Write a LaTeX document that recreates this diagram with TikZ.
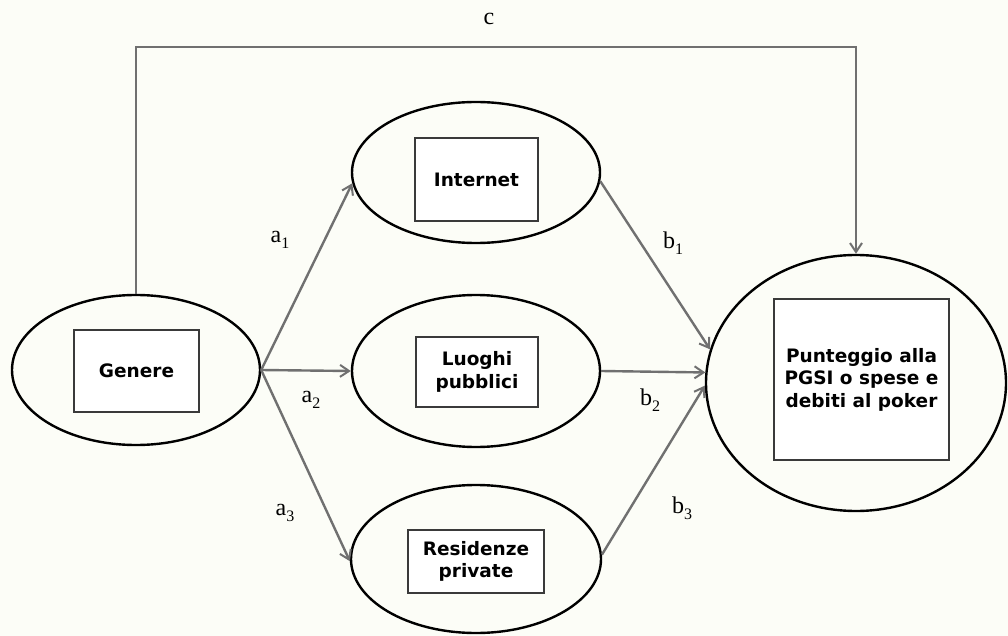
\documentclass[tikz,border=0pt]{standalone}
\usepackage{fontspec}
\setmainfont{Liberation Serif}
\newfontfamily\boxfont{DejaVu Sans}
\usetikzlibrary{shapes.geometric,arrows.meta}
\definecolor{bgcol}{HTML}{FCFDF7}
\definecolor{arrcol}{HTML}{707070}
\definecolor{boxcol}{HTML}{3A3A3A}
\newcommand{\lab}[2]{{\fontsize{24}{28}\selectfont #1}\raisebox{-5.5pt}{\fontsize{16}{19}\selectfont #2}}
\begin{document}
\begin{tikzpicture}[x=1pt,y=-1pt,
  ell/.style={ellipse,draw=black,line width=2.4pt,inner sep=0pt},
  bx/.style={rectangle,draw=boxcol,fill=white,line width=1.3pt,inner sep=0pt,align=center,
    font=\boxfont\bfseries\fontsize{18.5}{22.5}\selectfont},
  arr/.style={draw=arrcol,line width=2.4pt,-{Straight Barb[length=9pt,width=12pt,line width=2pt]}},
  lbl/.style={inner sep=0pt}]
\fill[bgcol] (0,0) rectangle (1008,636);
\useasboundingbox (0,0) rectangle (1008,636);
% ellipses
\node[ell,minimum width=248pt,minimum height=150pt] (gen) at (136,370) {};
\node[ell,minimum width=248pt,minimum height=141pt] (int) at (476,172.5) {};
\node[ell,minimum width=248pt,minimum height=152pt] (luo) at (476,371) {};
\node[ell,minimum width=250pt,minimum height=148pt] (res) at (476,559) {};
\node[ell,minimum width=300pt,minimum height=256pt] (big) at (856,383) {};
% boxes
\node[bx,minimum width=125pt,minimum height=82pt] (genb) at (136.5,371) {Genere};
\node[bx,minimum width=123pt,minimum height=83pt] (intb) at (476.5,179.5) {Internet};
\node[bx,minimum width=122pt,minimum height=70pt] (luob) at (477,372) {Luoghi\\pubblici};
\node[bx,minimum width=136pt,minimum height=63pt] (resb) at (476,561.5) {Residenze\\private};
\node[bx,minimum width=175pt,minimum height=161pt] (bigb) at (861.5,379.5) {Punteggio alla\\PGSI o spese e\\debiti al poker};
% connectors
\draw[arr] (gen.east) -- (int.185);
\draw[arr] (gen.east) -- (luo.west);
\draw[arr] (gen.east) -- (res.181);
\draw[arr] (int.-4) -- (big.167);
\draw[arr] (luo.east) -- (big.176);
\draw[arr] (res.2) -- (big.181);
\coordinate (ctop) at (500,47);
\draw[arr] (gen.north) |- (ctop) -| (big.north);
% labels
\node[lbl] (la1) at (280,240) {\lab{a}{1}};
\node[lbl] (la2) at (311,400) {\lab{a}{2}};
\node[lbl] (la3) at (285,513) {\lab{a}{3}};
\node[lbl] (lb1) at (673,243) {\lab{b}{1}};
\node[lbl] (lb2) at (650,400) {\lab{b}{2}};
\node[lbl] (lb3) at (682,508) {\lab{b}{3}};
\node[lbl] (lc) at (489,19) {{\fontsize{24}{28}\selectfont c}};
\end{tikzpicture}
\end{document}
